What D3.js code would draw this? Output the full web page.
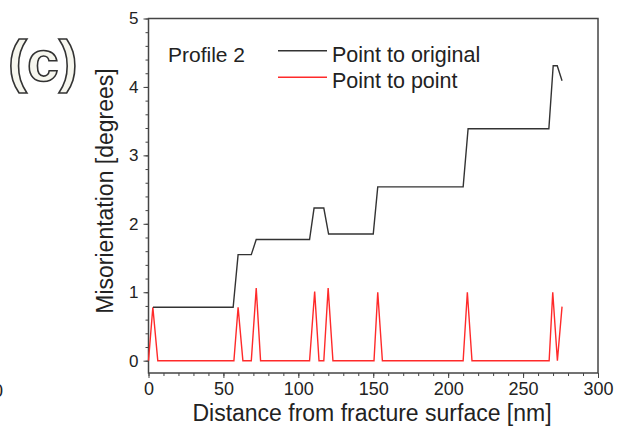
<!DOCTYPE html>
<html>
<head>
<meta charset="utf-8">
<script src="https://cdn.jsdelivr.net/npm/d3@7"></script>
<style>
  body { margin: 0; background: #fff; }
  text { font-family: "Liberation Sans", Arial, sans-serif; }
</style>
</head>
<body>
<script>
// Point to original (black)
var origX = [3, 56.5, 59.8, 68.6, 71.9, 107.5, 110.5, 117, 120.2, 150, 153, 210, 213.3, 267.2, 270.1, 272.8, 276];
var origY = [0.78, 0.78, 1.55, 1.55, 1.77, 1.77, 2.23, 2.23, 1.85, 1.85, 2.54, 2.54, 3.39, 3.39, 4.31, 4.31, 4.09];

// Point to point (red)
var ptpX = [0, 2.9, 6.2, 57, 59.8, 63, 68.6, 71.9, 74.8, 107.5, 110.9, 113.8, 117, 119.9, 123.1, 150.5, 153, 156.1, 210, 212.8, 215.9, 267.4, 269.8, 272.9, 276];
var ptpY = [0, 0.78, 0, 0, 0.78, 0, 0, 1.06, 0, 0, 1.01, 0, 0, 1.06, 0, 0, 1.0, 0, 0, 1.0, 0, 0, 1.0, 0, 0.79];

var xTicks = [0, 50, 100, 150, 200, 250, 300];
var yTicks = [0, 1, 2, 3, 4, 5];

var width = 621, height = 442;
var margin = { top: 18.5, right: 23, bottom: 69, left: 148.5 };

var svg = d3.select("body")
    .append("svg")
    .attr("width", width)
    .attr("height", height);

var x = d3.scaleLinear()
    .domain([0, 300])
    .range([margin.left, width - margin.right]);

var y = d3.scaleLinear()
    .domain([-0.18, 5])
    .range([height - margin.bottom, margin.top]);

var axisColor = "#444";

// minor ticks first
svg.append("g")
    .attr("transform", "translate(0," + y.range()[0] + ")")
    .call(d3.axisBottom(x).tickValues(d3.range(0, 301, 10)).tickSize(3).tickFormat(""))
    .call(function(g) { g.select(".domain").remove(); g.selectAll("line").attr("stroke", axisColor); });

svg.append("g")
    .attr("transform", "translate(" + x.range()[0] + ",0)")
    .call(d3.axisLeft(y).tickValues(d3.range(0, 5.01, 0.2)).tickSize(3).tickFormat(""))
    .call(function(g) { g.select(".domain").remove(); g.selectAll("line").attr("stroke", axisColor); });

// major ticks
svg.append("g")
    .attr("transform", "translate(0," + y.range()[0] + ")")
    .call(d3.axisBottom(x).tickValues(xTicks).tickSize(5).tickPadding(4).tickFormat(d3.format("d")))
    .call(function(g) {
        g.select(".domain").remove();
        g.selectAll("line").attr("stroke", axisColor);
        g.selectAll("text").attr("font-size", 18).attr("fill", "#222")
            .attr("font-family", "Liberation Sans, Arial, sans-serif");
    });

svg.append("g")
    .attr("transform", "translate(" + x.range()[0] + ",0)")
    .call(d3.axisLeft(y).tickValues(yTicks).tickSize(5).tickPadding(5).tickFormat(d3.format("d")))
    .call(function(g) {
        g.select(".domain").remove();
        g.selectAll("line").attr("stroke", axisColor);
        g.selectAll("text").attr("font-size", 17).attr("fill", "#222")
            .attr("font-family", "Liberation Sans, Arial, sans-serif");
    });

// frame
svg.append("rect")
    .attr("x", x.range()[0])
    .attr("y", y.range()[1])
    .attr("width", x.range()[1] - x.range()[0])
    .attr("height", y.range()[0] - y.range()[1])
    .attr("fill", "none")
    .attr("stroke", axisColor)
    .attr("stroke-width", 1.5);

var line = d3.line()
    .x(function(d) { return x(d[0]); })
    .y(function(d) { return y(d[1]); });

svg.append("path")
    .datum(ptpX.map(function(v, i) { return [v, ptpY[i]]; }))
    .attr("fill", "none")
    .attr("stroke", "#ff2a2a")
    .attr("stroke-width", 1.4)
    .attr("d", line);

svg.append("path")
    .datum(origX.map(function(v, i) { return [v, origY[i]]; }))
    .attr("fill", "none")
    .attr("stroke", "#333")
    .attr("stroke-width", 1.4)
    .attr("d", line);

// legend
svg.append("text")
    .attr("x", 168)
    .attr("y", 61.5)
    .attr("font-size", 21)
    .attr("fill", "#222")
    .text("Profile 2");

var legend = [["Point to original", "#333", 50.7], ["Point to point", "#ff2a2a", 77.3]];
legend.forEach(function(l) {
    svg.append("line")
        .attr("x1", 278).attr("x2", 327)
        .attr("y1", l[2]).attr("y2", l[2])
        .attr("stroke", l[1])
        .attr("stroke-width", 1.4);
    svg.append("text")
        .attr("x", 332)
        .attr("y", l[2] + 11)
        .attr("font-size", 21.5)
        .attr("fill", "#222")
        .text(l[0]);
});

// axis titles
svg.append("text")
    .attr("transform", "translate(113,191) rotate(-90)")
    .attr("text-anchor", "middle")
    .attr("font-size", 23)
    .attr("fill", "#222")
    .text("Misorientation [degrees]");

svg.append("text")
    .attr("x", 372)
    .attr("y", 421)
    .attr("text-anchor", "middle")
    .attr("font-size", 23)
    .attr("fill", "#222")
    .text("Distance from fracture surface [nm]");

// panel letter
svg.append("text")
    .attr("x", 8)
    .attr("y", 81)
    .attr("font-size", 57)
    .attr("font-weight", "bold")
    .attr("fill", "#f6f6ee")
    .attr("stroke", "#333")
    .attr("stroke-width", 1.6)
    .text("(c)");

// cut-off label at the left edge
svg.append("text")
    .attr("x", 3)
    .attr("y", 397)
    .attr("text-anchor", "end")
    .attr("font-size", 18)
    .attr("fill", "#222")
    .text("0");
</script>
</body>
</html>
